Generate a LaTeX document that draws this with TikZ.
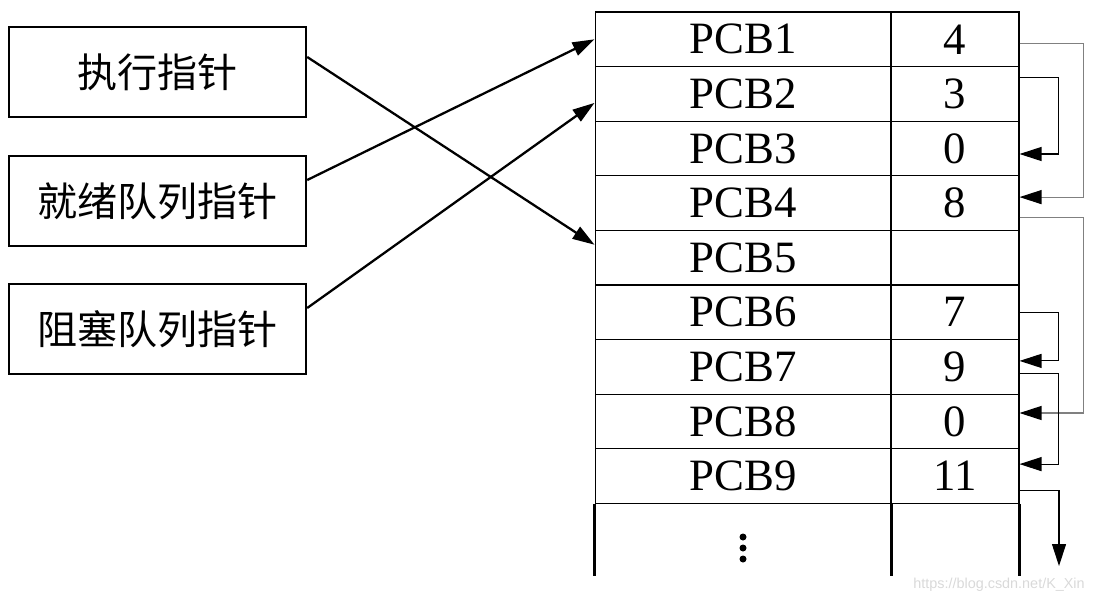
\documentclass[tikz,border=0pt]{standalone}
\usepackage{fontspec}
\setmainfont{Liberation Serif}
\newfontfamily\cjk{Noto Sans CJK SC}
\newfontfamily\marksans{Liberation Sans}
\usetikzlibrary{arrows.meta}

\begin{document}
\begin{tikzpicture}[x=0.02cm, y=-0.02cm, >={Triangle[length=0.44cm,width=0.28cm,color=black]},
    ptr/.style={draw, rectangle, line width=1.4pt, minimum width=5.94cm, minimum height=1.8cm, inner sep=0pt, font=\cjk\fontsize{22.8}{24}\selectfont},
    namecell/.style={draw, rectangle, line width=0.6pt, minimum width=5.92cm, minimum height=1.092cm, inner sep=0pt, font=\fontsize{25.5}{27}\selectfont},
    nextcell/.style={namecell, minimum width=2.56cm},
    link/.style={->, line width=0.6pt}]

        \useasboundingbox (0,0) rectangle (1102,603);

        % Define the pointer boxes (left)
        \node[ptr] (exec) at (157.5,72) {执行指针};
        \node[ptr] (ready) at (157.5,201) {就绪队列指针};
        \node[ptr] (block) at (157.5,329) {阻塞队列指针};

        % Define the PCB column (middle)
        \node[namecell] (p1) at (743,39.3) {PCB1};
        \node[namecell] (p2) at (743,93.9) {PCB2};
        \node[namecell] (p3) at (743,148.5) {PCB3};
        \node[namecell] (p4) at (743,203.1) {PCB4};
        \node[namecell] (p5) at (743,257.7) {PCB5};
        \node[namecell] (p6) at (743,312.3) {PCB6};
        \node[namecell] (p7) at (743,366.9) {PCB7};
        \node[namecell] (p8) at (743,421.5) {PCB8};
        \node[namecell] (p9) at (743,476.1) {PCB9};

        % Define the link column (right)
        \node[nextcell] (v1) at (955,39.3) {4};
        \node[nextcell] (v2) at (955,93.9) {3};
        \node[nextcell] (v3) at (955,148.5) {0};
        \node[nextcell] (v4) at (955,203.1) {8};
        \node[nextcell] (v5) at (955,257.7) {};
        \node[nextcell] (v6) at (955,312.3) {7};
        \node[nextcell] (v7) at (955,366.9) {9};
        \node[nextcell] (v8) at (955,421.5) {0};
        \node[nextcell] (v9) at (955,476.1) {11};

        % Open end of the table
        \draw[line width=1.4pt] (p9.south west) -- ++(0,72);
        \draw[line width=1.4pt] (p9.south east) -- ++(0,72);
        \draw[line width=1.4pt] (v9.south east) -- ++(0,72);
        \fill (743,537) circle[radius=0.07cm] (743,548) circle[radius=0.07cm] (743,559) circle[radius=0.07cm];

        % Draw arrows from the pointers to the PCBs
        \draw[->, line width=1.3pt] ([yshift=0.3cm]exec.east) -- ([yshift=0.26cm]p5.west);
        \draw[->, line width=1.3pt] ([yshift=0.42cm]ready.east) -- (p1.west);
        \draw[->, line width=1.3pt] ([yshift=0.42cm]block.east) -- ([yshift=-0.18cm]p2.west);

        % Draw the links between the PCBs
        \draw[link, gray] ([yshift=-0.08cm]v1.east) -- ++(64,0) |- ([yshift=0.12cm]v4.east);
        \draw[link] ([yshift=0.32cm]v2.east) -- ++(39,0) |- ([yshift=-0.11cm]v3.east);
        \draw[link, gray] ([yshift=-0.28cm]v4.east) -- ++(64,0) |- ([yshift=0.17cm]v8.east);
        \draw[link] (v6.east) -- ++(39,0) |- ([yshift=0.12cm]v7.east);
        \draw[link] ([yshift=-0.14cm]v7.east) -- ++(39,0) |- ([yshift=0.24cm]v9.east);
        \coordinate (tail) at (1059,566);
        \draw[link] ([yshift=-0.28cm]v9.east) -| (tail);

        \node[text=gray!30, font=\marksans\fontsize{8.2}{9}\selectfont] (mark) at (999,585) {https://blog.csdn.net/K\_Xin};

    \end{tikzpicture}
\end{document}
